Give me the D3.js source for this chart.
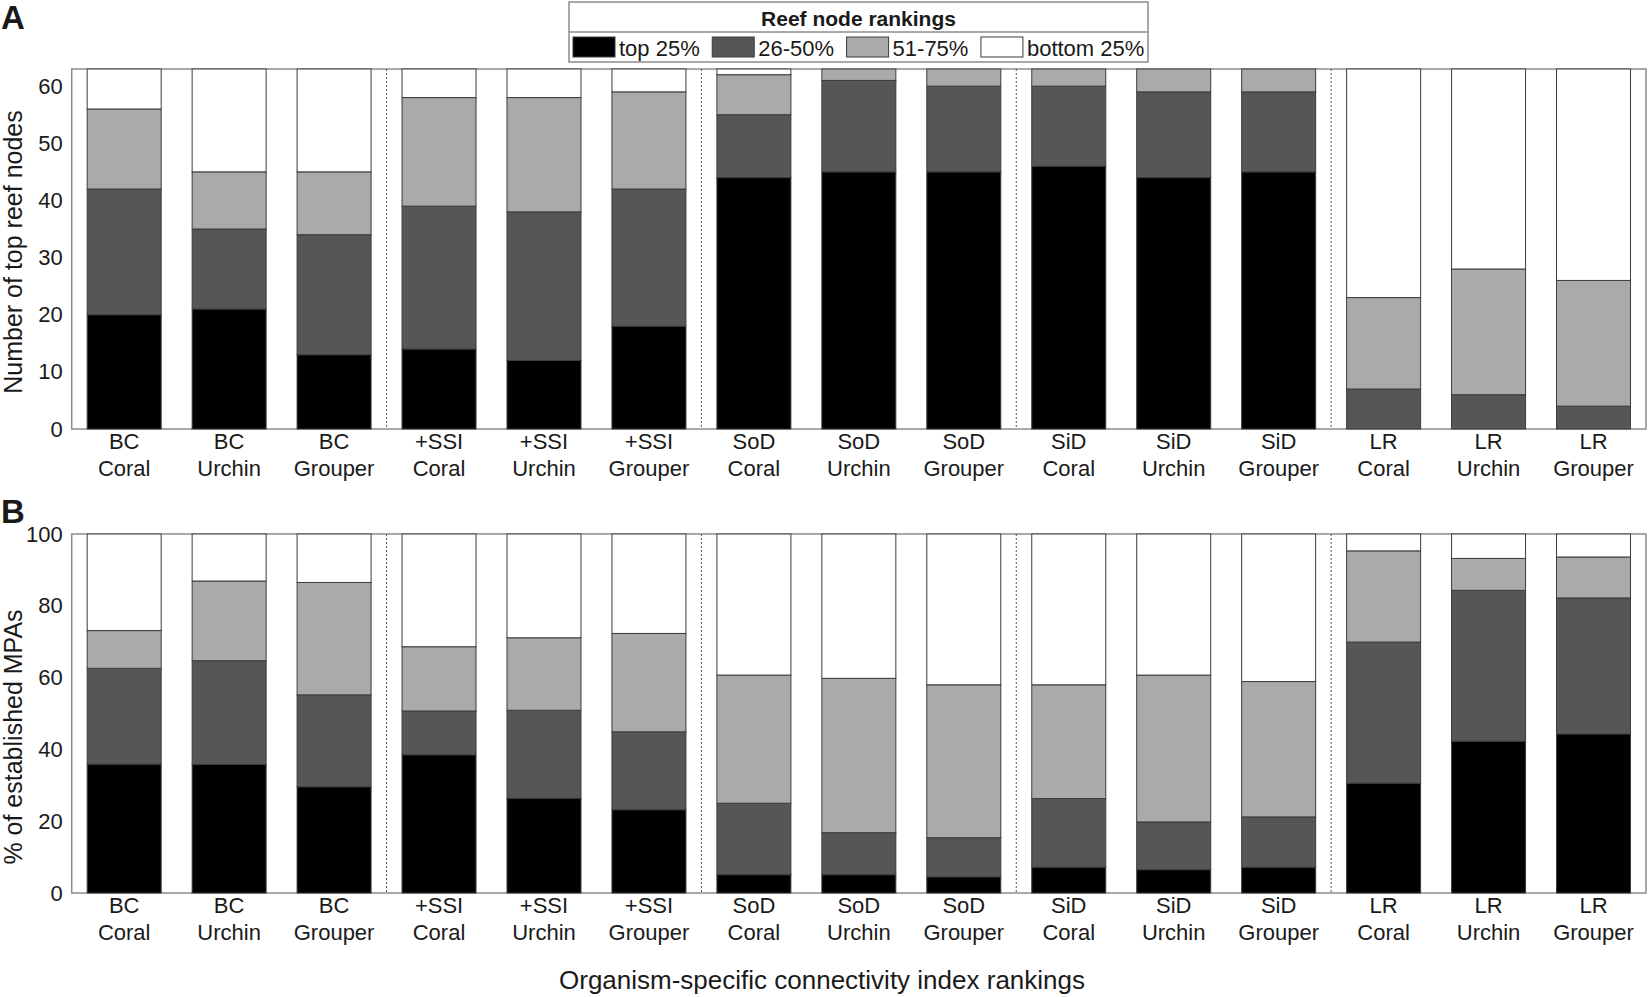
<!DOCTYPE html>
<html lang="en">
<head>
  <meta charset="utf-8">
  <title>Reef node rankings</title>
  <script src="https://d3js.org/d3.v7.min.js"></script>
  <style>
    body { margin: 0; background: #fff; }
    text { font-family: "Liberation Sans", Arial, sans-serif; fill: #1a1a1a; }
  </style>
</head>
<body>
<script type="text/javascript">

// categories: method on the first line, organism on the second
var methods = ["BC", "BC", "BC", "+SSI", "+SSI", "+SSI", "SoD", "SoD", "SoD",
               "SiD", "SiD", "SiD", "LR", "LR", "LR"];
var organisms = ["Coral", "Urchin", "Grouper", "Coral", "Urchin", "Grouper", "Coral", "Urchin", "Grouper",
                 "Coral", "Urchin", "Grouper", "Coral", "Urchin", "Grouper"];

var rankKeys = ["top 25%", "26-50%", "51-75%", "bottom 25%"];
var rankColors = ["#000000", "#565656", "#aaaaaa", "#ffffff"];

// panel A: number of top reef nodes
var nodesTop25    = [20, 21, 13, 14, 12, 18, 44, 45, 45, 46, 44, 45,  0,  0,  0];
var nodes26to50   = [22, 14, 21, 25, 26, 24, 11, 16, 15, 14, 15, 14,  7,  6,  4];
var nodes51to75   = [14, 10, 11, 19, 20, 17,  7,  2,  3,  3,  4,  4, 16, 22, 22];
var nodesBottom25 = [ 7, 18, 18,  5,  5,  4,  1,  0,  0,  0,  0,  0, 40, 35, 37];
var nodesTicks = [0, 10, 20, 30, 40, 50, 60];

// panel B: % of established MPAs
var mpaTop25    = [35.9, 35.8, 29.6, 38.5, 26.4, 23.2,  5.1,  5.1,  4.5,  7.2,  6.5,  7.2, 30.6, 42.3, 44.3];
var mpa26to50   = [26.7, 28.9, 25.6, 12.2, 24.5, 21.7, 19.9, 11.7, 10.9, 19.1, 13.3, 14.0, 39.3, 42.0, 37.9];
var mpa51to75   = [10.5, 22.2, 31.3, 17.9, 20.2, 27.4, 35.7, 43.0, 42.6, 31.7, 40.9, 37.7, 25.4,  8.9, 11.4];
var mpaBottom25 = [26.9, 13.1, 13.5, 31.4, 28.9, 27.7, 39.3, 40.2, 42.0, 42.0, 39.3, 41.1,  4.7,  6.8,  6.4];
var mpaTicks = [0, 20, 40, 60, 80, 100];

var svg_width = 1650;
var svg_height = 997;
var plotLeft = 71.7, plotRight = 1646;

var svg = d3.select("body")
            .append("svg")
            .attr("width", svg_width)
            .attr("height", svg_height);

svg.append("rect").attr("width", svg_width).attr("height", svg_height).attr("fill", "#fff");

var ids = d3.range(methods.length);
var x = d3.scaleBand()
          .domain(ids)
          .range([plotLeft, plotRight])
          .paddingInner(0.295)
          .paddingOuter(0.1475);

function drawPanel(opts) {
  var g = svg.append("g");
  var y = d3.scaleLinear().domain([0, opts.max]).range([opts.bottom, opts.top]);

  var rows = ids.map(function(i) {
    var r = { id: i };
    rankKeys.forEach(function(k, j) { r[k] = opts.series[j][i]; });
    return r;
  });
  var stacked = d3.stack().keys(rankKeys)(rows);

  // frame
  g.append("rect")
   .attr("x", plotLeft).attr("y", opts.top)
   .attr("width", plotRight - plotLeft).attr("height", opts.bottom - opts.top)
   .attr("fill", "none").attr("stroke", "#8c8c8c").attr("stroke-width", 1.5);

  // dotted group separators
  [3, 6, 9, 12].forEach(function(i) {
    var sx = x(i) - x.step() * x.paddingInner() / 2;
    g.append("line")
     .attr("x1", sx).attr("x2", sx)
     .attr("y1", opts.top).attr("y2", opts.bottom)
     .attr("stroke", "#555").attr("stroke-width", 1)
     .attr("stroke-dasharray", "2,2");
  });

  g.selectAll("g.layer")
   .data(stacked)
   .enter()
     .append("g")
     .attr("class", "layer")
     .attr("fill", function(d, i) { return rankColors[i]; })
   .selectAll("rect")
   .data(function(d) { return d; })
   .enter()
     .append("rect")
     .attr("x", function(d) { return x(d.data.id); })
     .attr("y", function(d) { return y(d[1]); })
     .attr("width", x.bandwidth())
     .attr("height", function(d) { return y(d[0]) - y(d[1]); })
     .attr("stroke", "#3c3c3c")
     .attr("stroke-width", 1);

  // y axis
  var ax = g.append("g")
            .attr("transform", "translate(" + plotLeft + ",0)")
            .call(d3.axisLeft(y).tickValues(opts.ticks).tickSize(0).tickPadding(9));
  ax.select(".domain").remove();
  ax.selectAll("text")
    .style("font-family", "'Liberation Sans', Arial, sans-serif")
    .style("font-size", "22px")
    .attr("fill", "#1a1a1a");

  // category labels
  var labels = g.selectAll("text.cat")
                .data(ids)
                .enter()
                  .append("text")
                  .attr("class", "cat")
                  .attr("text-anchor", "middle")
                  .attr("font-size", "22px");
  labels.append("tspan")
        .attr("x", function(d) { return x(d) + x.bandwidth() / 2; })
        .attr("y", opts.bottom + 20)
        .text(function(d) { return methods[d]; });
  labels.append("tspan")
        .attr("x", function(d) { return x(d) + x.bandwidth() / 2; })
        .attr("y", opts.bottom + 47)
        .text(function(d) { return organisms[d]; });

  // y title
  g.append("text")
   .attr("transform", "translate(" + 22 + "," + opts.titleY + ") rotate(-90)")
   .attr("text-anchor", "middle")
   .attr("font-size", "25px")
   .text(opts.title);

  // panel letter
  svg.append("text")
     .attr("x", 1).attr("y", opts.letterY)
     .attr("font-size", "33px").attr("font-weight", "bold")
     .attr("fill", "#000")
     .text(opts.letter);
}

drawPanel({
  series: [nodesTop25, nodes26to50, nodes51to75, nodesBottom25],
  max: 63, ticks: nodesTicks, top: 69, bottom: 429,
  title: "Number of top reef nodes", titleY: 252, letter: "A", letterY: 29
});

drawPanel({
  series: [mpaTop25, mpa26to50, mpa51to75, mpaBottom25],
  max: 100, ticks: mpaTicks, top: 534, bottom: 893,
  title: "% of established MPAs", titleY: 737, letter: "B", letterY: 523
});

// x title
svg.append("text")
   .attr("x", 822).attr("y", 989)
   .attr("text-anchor", "middle")
   .attr("font-size", "26px")
   .text("Organism-specific connectivity index rankings");

// legend
var legX = 569, legY = 2, legW = 579, legH = 60;
var leg = svg.append("g");
leg.append("rect")
   .attr("x", legX).attr("y", legY).attr("width", legW).attr("height", legH)
   .attr("fill", "#fff").attr("stroke", "#8c8c8c").attr("stroke-width", 1.5);
leg.append("line")
   .attr("x1", legX).attr("x2", legX + legW)
   .attr("y1", 32).attr("y2", 32)
   .attr("stroke", "#8c8c8c").attr("stroke-width", 1.5);
leg.append("text")
   .attr("x", legX + legW / 2).attr("y", 26)
   .attr("text-anchor", "middle")
   .attr("font-size", "21px").attr("font-weight", "bold")
   .text("Reef node rankings");

var cx = 573;
rankKeys.forEach(function(k, i) {
  leg.append("rect")
     .attr("x", cx).attr("y", 37).attr("width", 42).attr("height", 20)
     .attr("fill", rankColors[i]).attr("stroke", "#3c3c3c").attr("stroke-width", 1);
  var t = leg.append("text")
             .attr("x", cx + 46).attr("y", 56)
             .attr("font-size", "22px")
             .text(k);
  cx += 46 + t.node().getComputedTextLength() + 12.5;
});

</script>
</body>
</html>
